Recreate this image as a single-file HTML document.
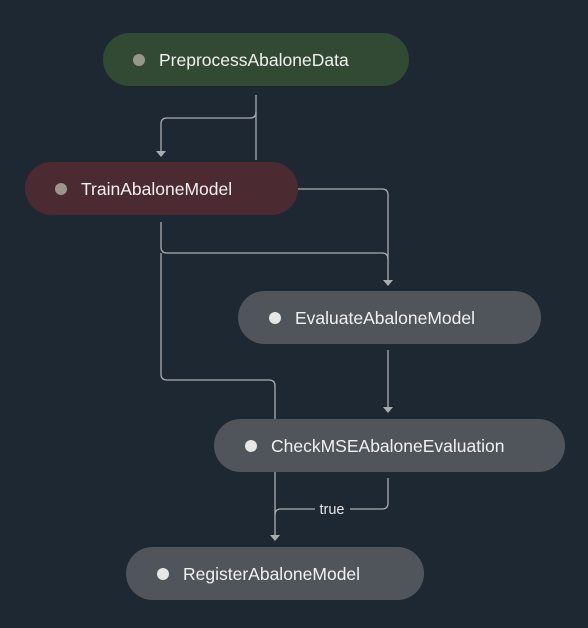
<!DOCTYPE html>
<html><head><style>
body{margin:0;width:588px;height:628px;background:#1e2833;overflow:hidden;font-family:"Liberation Sans",sans-serif}
.n{position:absolute;height:53px;border-radius:27px;color:#f0f0f0;font-size:17.5px;line-height:55px;box-sizing:border-box}
.n i{position:absolute;top:21px;width:12px;height:12px;border-radius:50%;background:#9a968c}
.g{background:#4f555b}.g i{background:#e6e6e6}
</style></head><body>
<svg width="588" height="628" style="position:absolute;left:0;top:0" fill="none" stroke="#a9adb0" stroke-width="1.3">
<path d="M256 95 V160"/>
<path d="M256 112 Q256 118 250 118 H167 Q161 118 161 124 V152"/>
<path d="M298 189 H382 Q388 189 388 195 V282"/>
<path d="M161 222 V247 Q161 253 167 253 H382 Q388 253 388 259"/>
<path d="M161 253 V374 Q161 380 167 380 H269 Q275 380 275 386 V419"/>
<path d="M388 350 V409"/>
<path d="M275 472 V537"/>
<path d="M388 478 V503 Q388 509 382 509 H350"/>
<path d="M315 509 H281 Q275 509 275 515"/>
<g fill="#a9adb0" stroke="none">
<path d="M156 151 L166 151 L161 157Z"/>
<path d="M383 280 L393 280 L388 286Z"/>
<path d="M383 407 L393 407 L388 413Z"/>
<path d="M270 535 L280 535 L275 541Z"/>
</g>
<text x="332" y="514" fill="#e6e6e6" stroke="none" font-size="14.5" font-family="Liberation Sans" text-anchor="middle">true</text>
</svg>
<div class="n" style="left:103px;top:33px;width:306px;background:#324a33;padding-left:56px"><i style="left:30px"></i>PreprocessAbaloneData</div>
<div class="n" style="left:25px;top:162px;width:273px;background:#4b2a31;padding-left:56px"><i style="left:30px"></i>TrainAbaloneModel</div>
<div class="n g" style="left:238px;top:291px;width:303px;padding-left:57px"><i style="left:31px"></i>EvaluateAbaloneModel</div>
<div class="n g" style="left:214px;top:419px;width:351px;padding-left:57px"><i style="left:31px"></i>CheckMSEAbaloneEvaluation</div>
<div class="n g" style="left:126px;top:547px;width:298px;padding-left:57px"><i style="left:31px"></i>RegisterAbaloneModel</div>
</body></html>
